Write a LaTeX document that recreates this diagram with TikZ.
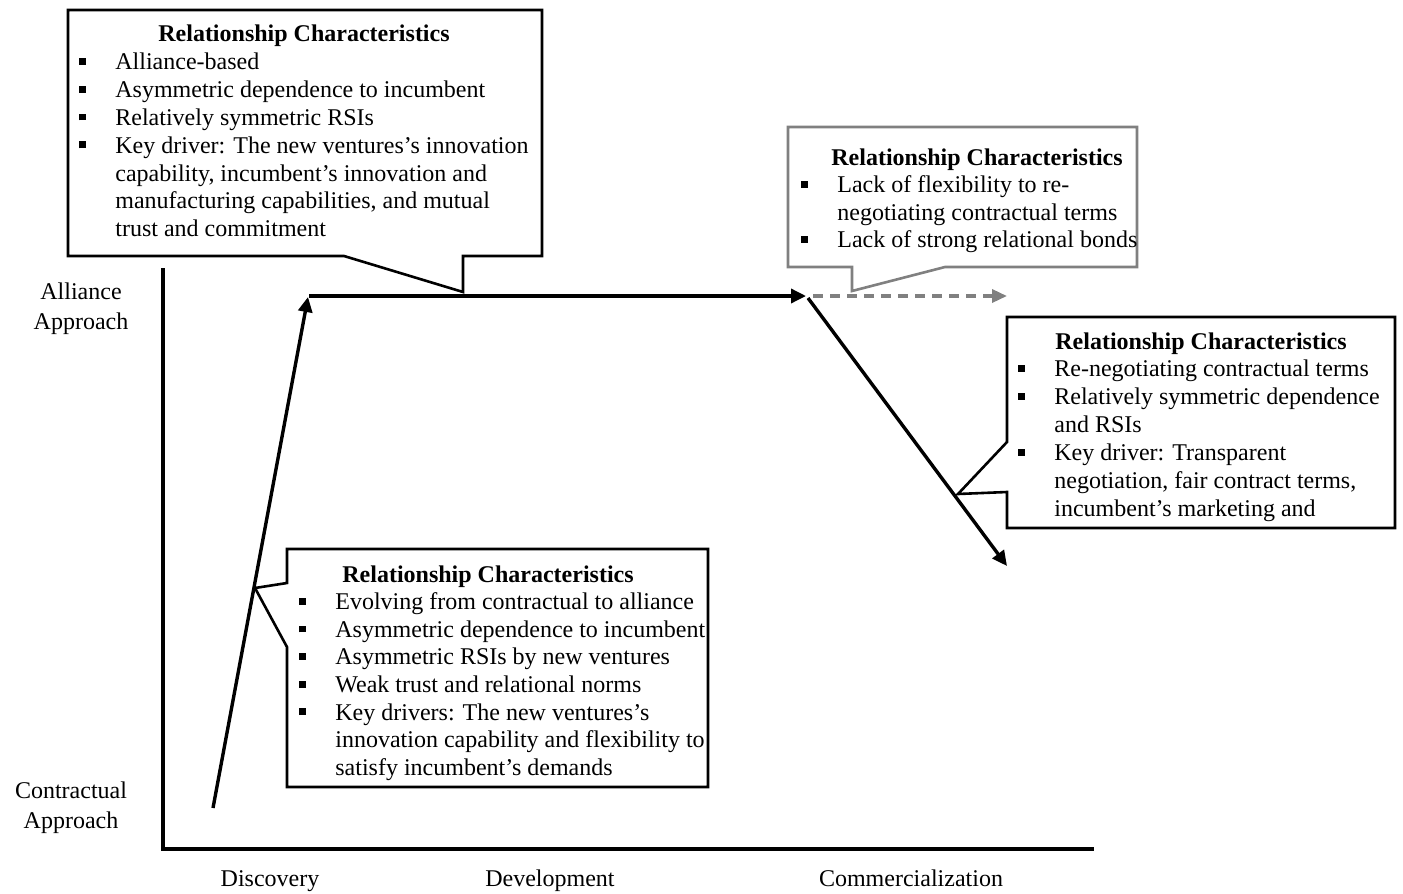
\documentclass[tikz,border=0pt]{standalone}
\usepackage{fontspec}
\setmainfont{Liberation Serif}
\usetikzlibrary{arrows.meta}
\definecolor{callgray}{RGB}{128,128,128}
\newcommand\bl{\makebox[18pt][l]{\rule[2.5pt]{3.4pt}{3.4pt}}}
\newcommand\ind{\hspace*{18pt}}
\begin{document}
\begin{tikzpicture}[x=0.5pt,y=-0.5pt,
  ttl/.style={inner sep=0pt, anchor=base, font=\fontsize{12}{13.75}\selectfont\bfseries},
  lst/.style={inner sep=0pt, anchor=north west, align=left, font=\fontsize{12}{#1}\selectfont},
  lab/.style={inner sep=0pt, anchor=base, font=\fontsize{12}{14}\selectfont},
  lab2/.style={inner sep=0pt, anchor=north, align=center, font=\fontsize{12}{15}\selectfont},
  callout/.style={draw=black, line width=1.3pt, fill=white, line join=miter},
  callgrey/.style={callout, draw=callgray},
  flow/.style={line width=1.7pt, -{Triangle[length=7.5pt,width=7pt]}},
  flowg/.style={line width=1.7pt, draw=callgray, dash pattern=on 5pt off 3.5pt, -{Triangle[length=7.5pt,width=6.5pt]}},
  axis/.style={line width=1.65pt, line join=miter},
]
\useasboundingbox (0,0) rectangle (1403,894);

% axes
\coordinate (ytop) at (163,268);
\coordinate (orig) at (163,849);
\coordinate (xend) at (1094,849);
\draw[axis] (ytop) -- (orig) -- (xend);

\node[lab2] (alliance) at (81,278) {\strut Alliance\\\strut Approach};
\node[lab2] (contract) at (71,777) {\strut Contractual\\\strut Approach};
\node[lab] (disc) at (270,886) {Discovery};
\node[lab] (dev) at (550,886) {Development};
\node[lab] (comm) at (911,886) {Commercialization};

% callout 1
\draw[callout] (68,10) -- (542,10) -- (542,256) -- (463,256) -- (463,292) -- (344,256) -- (68,256) -- cycle;
\node[ttl] (t1) at (304,41.5) {Relationship Characteristics};
\node[lst=13.9pt] (l1) at (79,50) {\strut\bl Alliance-based\\
\bl Asymmetric dependence to incumbent\\
\bl Relatively symmetric RSIs\\
\bl Key driver: The new ventures’s innovation\\
\ind capability, incumbent’s innovation and\\
\ind manufacturing capabilities, and mutual\\
\ind trust and commitment};

% callout 2 (grey)
\draw[callgrey] (788,127) -- (1137,127) -- (1137,267) -- (945,267) -- (852,291) -- (852,267) -- (788,267) -- cycle;
\node[ttl] (t2) at (977,165) {Relationship Characteristics};
\node[lst=13.75pt] (l2) at (801,173) {\strut\bl Lack of flexibility to re-\\
\ind negotiating contractual terms\\
\bl Lack of strong relational bonds};

% callout 3
\draw[callout] (1007,317) -- (1395,317) -- (1395,528) -- (1007,528) -- (1007,492) -- (958,494) -- (1007,442) -- cycle;
\node[ttl] (t3) at (1201,349) {Relationship Characteristics};
\node[lst=14pt] (l3) at (1018,356.5) {\strut\bl Re-negotiating contractual terms\\
\bl Relatively symmetric dependence\\
\ind and RSIs\\
\bl Key driver: Transparent\\
\ind negotiation, fair contract terms,\\
\ind incumbent’s marketing and};

% callout 4
\draw[callout] (287,549) -- (708,549) -- (708,787) -- (287,787) -- (287,647) -- (255,588) -- (287,583) -- cycle;
\node[ttl] (t4) at (488,582) {Relationship Characteristics};
\node[lst=13.8pt] (l4) at (299,590) {\strut\bl Evolving from contractual to alliance\\
\bl Asymmetric dependence to incumbent\\
\bl Asymmetric RSIs by new ventures\\
\bl Weak trust and relational norms\\
\bl Key drivers: The new ventures’s\\
\ind innovation capability and flexibility to\\
\ind satisfy incumbent’s demands};

% path
\coordinate (p0) at (213,808);
\coordinate (p1) at (308,297);
\coordinate (p1b) at (309,296);
\coordinate (p2) at (806,296);
\coordinate (p2b) at (808,298);
\coordinate (p3) at (1007,566);
\coordinate (p4s) at (813,296);
\coordinate (p4) at (1007,296);
\draw[flow] (p0) -- (p1);
\draw[flow] (p1b) -- (p2);
\draw[flow] (p2b) -- (p3);
\draw[flowg] (p4s) -- (p4);
\end{tikzpicture}
\end{document}
